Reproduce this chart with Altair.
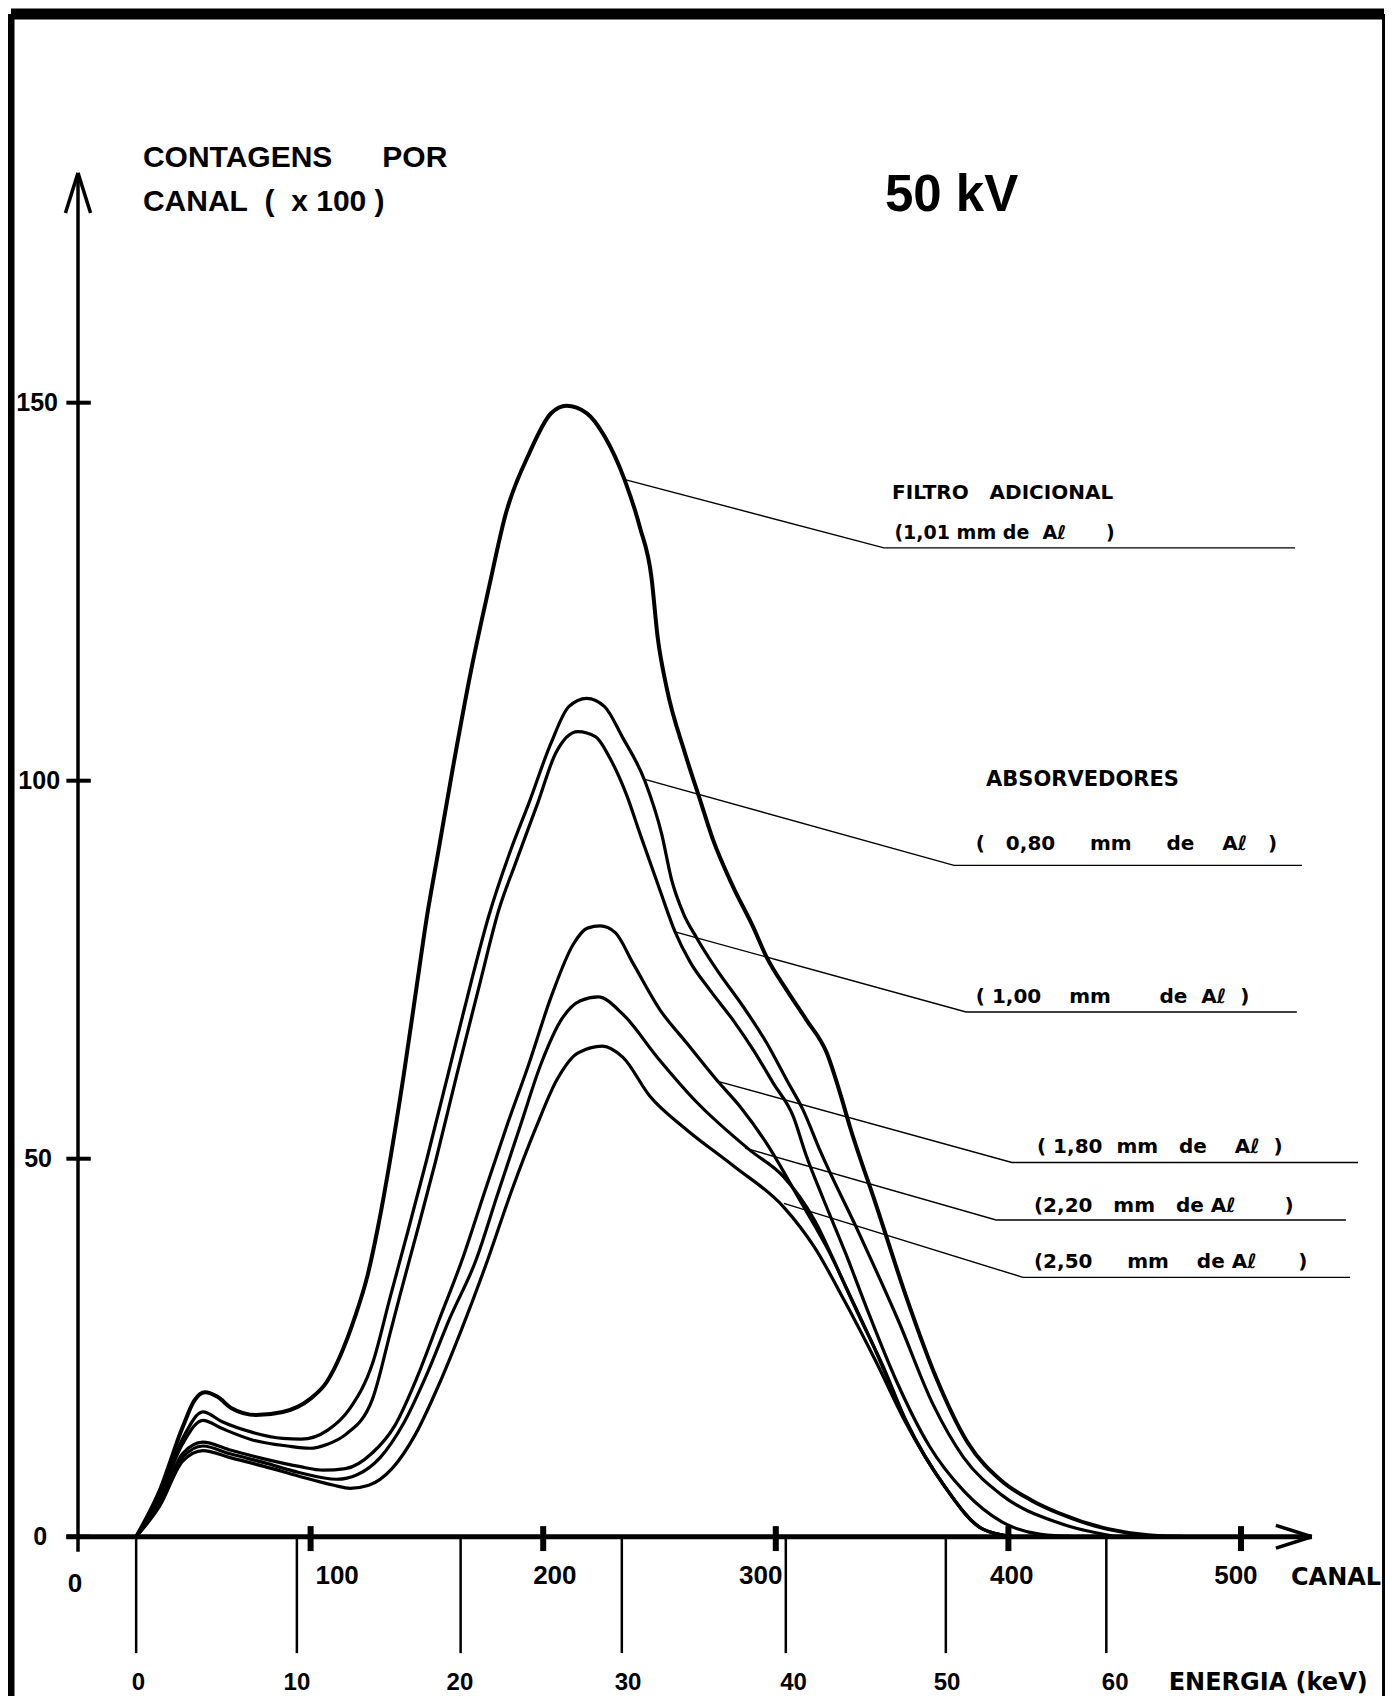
import altair as alt
import pandas as pd

# ------------------------------------------------------------------
# Spectra: channel (canal) vs counts/channel (x100)
# ------------------------------------------------------------------
canal_filtro = [25, 35, 45, 50, 54.6, 60, 66, 76.5, 88, 99.7, 107, 113, 119, 124.6, 129, 134,
                140, 145.7, 150, 155, 161, 169, 176.7, 184, 194, 203.4, 210, 218.8, 226.5, 235,
                241.6, 246.5, 249.2, 253, 261, 267.5, 273, 281.6, 290.2, 296, 304.7, 313.3,
                321.9, 327.6, 331.9, 343, 356, 369, 382.4, 397, 410, 421.8, 443, 460, 475]
cont_filtro = [0, 6, 14.5, 18, 19.1, 18.5, 17, 16.1, 16.5, 18.2, 20.5, 24.1, 29, 34.7, 41, 49.5,
               61, 73, 82, 90.8, 101.4, 114.6, 125.6, 135.4, 143.3, 148.6, 149.6, 148.6, 145.5, 139.8,
               133.5, 127, 119, 112.4, 103.6, 97.4, 92.2, 86, 80.7, 76.7, 72.3, 68.3,
               64, 58.7, 54.2, 44, 31.8, 21, 12.5, 7.4, 4.8, 3.1, 1, 0.2, 0]

canal_080 = [25, 35, 45, 53.7, 62, 75, 88, 95.9, 107.4, 117, 126.6, 134.3, 142, 149.6, 159.2,
             168.8, 176.5, 186, 193.8, 203.4, 211, 218.7, 226.4, 234, 243.8, 250.9, 255.2, 260.2,
             266, 274.6, 286, 296.1, 304.7, 311.8, 319, 336, 352.8, 367.6, 380.7, 397.2, 421.8, 446.5]
cont_080 = [0, 5.5, 13, 16.5, 15.2, 13.8, 13, 12.9, 14.1, 17, 22.9, 31.8, 40.6, 49.5, 61.3,
            73.1, 82, 90.8, 97, 105, 109.8, 110.9, 109.8, 105.8, 99.9, 93, 86.9, 82.5,
            79.2, 75, 70.1, 65.3, 60.4, 56.4, 51.1, 40, 28.5, 17.5, 10.5, 5.5, 1.8, 0]

canal_100 = [25, 35, 45, 53.7, 62, 75, 90, 99.7, 107, 115, 126.6, 134.5, 138.3, 146, 153.6, 163,
             172.7, 181, 188, 197.6, 205.3, 214.9, 222.6, 228.3, 236, 241.6, 250.2, 256.7, 263.2,
             271.7, 281.7, 290.3, 298.9, 307.5, 313, 320, 330, 340, 352, 366, 381, 397, 414, 428]
cont_100 = [0, 5.2, 12.3, 15.4, 14.3, 12.8, 12, 11.7, 12.2, 13.5, 18.2, 27.3, 31.8, 40.6, 49.5, 61.3,
            73.1, 83, 89, 97, 103.6, 106.5, 105.8, 103.2, 98, 93, 85.5, 80, 76,
            72.3, 68.3, 64.4, 60, 55.6, 50.5, 45, 37.5, 29.5, 20.5, 12, 6, 2, 0.3, 0]

canal_180 = [25, 35, 45, 53.7, 65, 80, 95, 105.5, 115, 126.6, 136.2, 145.8, 155.4, 165, 174.6,
             184.2, 193.8, 203.4, 213, 219, 224.5, 231, 238.7, 250.2, 261.7, 274.6, 284.6, 296.1,
             310, 323.1, 336.3, 346.2, 356, 372.5, 389, 402]
cont_180 = [0, 4.5, 11, 12.5, 11.5, 10.3, 9.3, 8.8, 9.0, 11.1, 14.7, 21.1, 28.8, 36.5, 45.4,
            54.2, 62.5, 71.4, 78.4, 80.5, 80.8, 79.9, 75.8, 69.7, 65.3, 60.4, 56.9, 52,
            44.7, 37.6, 28.9, 22.5, 15.3, 6.7, 1, 0]

canal_220 = [25, 35, 45, 53.7, 65, 80, 95, 111.3, 120, 130, 140, 150, 160, 171, 180.5, 190, 199,
             208, 216, 223.6, 234.3, 249.1, 265.6, 288.6, 303.4, 316.6, 329.7, 342.9, 356, 372.5,
             389, 402]
cont_220 = [0, 4.3, 10.5, 12.0, 11, 9.8, 8.5, 7.6, 8.2, 10.5, 15, 21.5, 29, 36.5, 45.4, 54.2, 62.5,
            68.5, 70.9, 71.4, 69.1, 63.4, 57.6, 51.2, 47.6, 41.9, 33.3, 24.6, 15.3, 6.7,
            1, 0]

canal_250 = [25, 35, 45, 53.7, 65, 80, 95, 110, 117, 125, 135, 145, 155, 165, 176, 186, 197, 206,
             215, 225.5, 234.3, 245.8, 260.6, 282, 303.4, 316.6, 329.7, 343, 356, 372.5, 389, 402]
cont_250 = [0, 4, 10, 11.4, 10.5, 9.3, 8, 6.8, 6.4, 6.8, 9, 13.5, 20, 27.5, 36.5, 45.4, 54.2, 60.5,
            64, 64.9, 63.4, 58.3, 54.1, 49, 43.6, 38.3, 31.1, 23.2, 15, 6.7, 1, 0]

series_names = ["1,01 mm (filtro)", "0,80 mm", "1,00 mm", "1,80 mm", "2,20 mm", "2,50 mm"]

# axes
y_ticks = [0, 50, 100, 150]
y_tick_labels = ["0", "50", "100", "150"]
canal_ticks = [100, 200, 300, 400, 500]
canal_tick_labels = ["0", "100", "200", "300", "400", "500"]
energy_ticks = ["0", "10", "20", "30", "40", "50", "60"]
energy_tick_canal = [25.0, 94.1, 164.5, 233.8, 304.3, 373.1, 442.1]

# texts
NB = "\u00a0"
title_lines = ["CONTAGENS" + NB * 6 + "POR",
               "CANAL" + NB * 2 + "(" + NB * 2 + "x" + NB + "100" + NB + ")"]
kv_label = "50 kV"
legend_texts = [
    "FILTRO" + NB * 3 + "ADICIONAL",
    "(1,01" + NB + "mm" + NB + "de" + NB * 2 + "Aℓ" + NB * 6 + ")",
    "ABSORVEDORES",
    "(" + NB * 3 + "0,80" + NB * 5 + "mm" + NB * 5 + "de" + NB * 4 + "Aℓ" + NB * 3 + ")",
    "(" + NB + "1,00" + NB * 4 + "mm" + NB * 7 + "de" + NB * 2 + "Aℓ" + NB * 2 + ")",
    "(" + NB + "1,80" + NB * 2 + "mm" + NB * 3 + "de" + NB * 4 + "Aℓ" + NB * 2 + ")",
    "(2,20" + NB * 3 + "mm" + NB * 3 + "de" + NB + "Aℓ" + NB * 7 + ")",
    "(2,50" + NB * 5 + "mm" + NB * 4 + "de" + NB + "Aℓ" + NB * 6 + ")",
]
axis_names = ["CANAL", "ENERGIA (keV)"]

# ------------------------------------------------------------------
# layout (data units: canal on x, counts on y)
# ------------------------------------------------------------------
X_DOM = [-30.095, 561.91]
Y_DOM = [-21.07, 202.21]
W, H = 1377, 1688

y_label_x = [-13.3, -11.2, -7.7, -8.6]
canal_label_x = [-1.3, 111.4, 205, 293.5, 401.4, 497.8]
canal_label_y = [-6.2, -5.2, -5.2, -5.2, -5.2, -5.2]
energy_label_x = [26, 94.1, 164.2, 236.5, 307.6, 373.6, 445.9]
energy_label_y = -19.3

legend_pos = [(350, 138.1), (351, 132.7), (390.4, 100.1), (386, 91.6), (386, 71.4),
              (412.3, 51.5), (411, 43.7), (411, 36.4)]
legend_sizes = [20, 19, 21, 20, 20, 20, 20, 20]

leaders = [
    [(235.6, 139.8), (346.5, 130.8), (523.2, 130.8)],
    [(243.3, 100.2), (376.6, 88.8), (526.2, 88.8)],
    [(256.7, 80.0), (381.8, 69.4), (524.0, 69.4)],
    [(274.3, 60.3), (401.5, 49.5), (550.3, 49.5)],
    [(286.8, 51.4), (394.7, 41.9), (545.1, 41.9)],
    [(303.5, 44.1), (406.3, 34.3), (546.9, 34.3)],
]

# ------------------------------------------------------------------
xs = alt.Scale(domain=X_DOM, nice=False, zero=False)
ys = alt.Scale(domain=Y_DOM, nice=False, zero=False)
X = alt.X("x:Q", scale=xs, axis=None)
Y = alt.Y("y:Q", scale=ys, axis=None)

# curves
rows = []
all_c = [canal_filtro, canal_080, canal_100, canal_180, canal_220, canal_250]
all_v = [cont_filtro, cont_080, cont_100, cont_180, cont_220, cont_250]
for k, (cc, vv) in enumerate(zip(all_c, all_v)):
    w = 4.0 if k == 0 else 3.2
    for c, v in zip(cc, vv):
        rows.append({"series": series_names[k], "x": c, "y": v, "w": w})
curve_df = pd.DataFrame(rows)
curves = alt.Chart(curve_df).mark_line(
    interpolate="monotone", color="black", strokeCap="round", strokeJoin="round"
).encode(x=X, y=Y, detail="series:N", strokeWidth=alt.StrokeWidth("w:Q", scale=None))

# leader lines
lrows = []
for i, pts in enumerate(leaders):
    for j, (c, v) in enumerate(pts):
        lrows.append({"lead": i, "i": j, "x": c, "y": v})
lead_chart = alt.Chart(pd.DataFrame(lrows)).mark_line(color="black", strokeWidth=1.4).encode(
    x=X, y=Y, detail="lead:N", order="i:O")

# rules: axes, ticks, arrows, energy lines, frame
r = []
def rule(x, y, x2, y2, w):
    r.append({"x": x, "y": y, "x2": x2, "y2": y2, "w": w})

rule(-5, 0, 530.4, 0, 5)                 # canal axis
rule(530.4, 0, 515.0, 1.5, 3.5)          # arrow
rule(530.4, 0, 515.0, -1.5, 3.5)
rule(0, -2, 0, 180.4, 3.5)               # counts axis
rule(0, 180.4, -5.4, 175.1, 3.5)         # arrow
rule(0, 180.4, 5.4, 175.1, 3.5)
for t in y_ticks:
    rule(-5, t, 5.5, t, 4)
for t in canal_ticks:
    rule(t, -1.9, t, 1.4, 6)
for c in energy_tick_canal:
    rule(c, -0.3, c, -15.4, 2.5)
# frame of the drawing
rule(-28.8, 201.4, 561.5, 201.4, 11)
rule(-28.8, 201.4, -28.8, -21.1, 7)
rule(561.5, 201.4, 561.5, -21.1, 4)
rules = alt.Chart(pd.DataFrame(r)).mark_rule(color="black", strokeCap="butt").encode(
    x=X, y=Y, x2="x2:Q", y2="y2:Q", strokeWidth=alt.StrokeWidth("w:Q", scale=None))

# texts
def text_layer(df, **kw):
    return alt.Chart(df).mark_text(color="black", **kw).encode(
        x=X, y=Y, text="t:N", size=alt.Size("fs:Q", scale=None))

title_df = pd.DataFrame({"t": title_lines, "x": [27.9, 27.9], "y": [182.4, 176.6], "fs": [30, 30]})
kv_df = pd.DataFrame({"t": [kv_label], "x": [346.9], "y": [177.3], "fs": [51]})
leg_df = pd.DataFrame({"t": legend_texts, "x": [p[0] for p in legend_pos],
                       "y": [p[1] for p in legend_pos], "fs": legend_sizes})
axn_df = pd.DataFrame({"t": axis_names, "x": [521.5, 468.9], "y": [-5.4, -19.3], "fs": [24, 24]})
ylab_df = pd.DataFrame({"t": y_tick_labels, "x": y_label_x, "y": y_ticks, "fs": [25] * 4})
clab_df = pd.DataFrame({"t": canal_tick_labels, "x": canal_label_x, "y": canal_label_y,
                        "fs": [26] * 6})
elab_df = pd.DataFrame({"t": energy_ticks, "x": energy_label_x, "y": [energy_label_y] * 7,
                        "fs": [24] * 7})

t_title = text_layer(title_df, align="left", baseline="middle", font="Liberation Sans",
                     fontWeight="bold")
t_kv = text_layer(kv_df, align="left", baseline="middle", font="Liberation Sans", fontWeight="bold")
t_leg = text_layer(leg_df, align="left", baseline="middle", font="DejaVu Sans", fontWeight="bold")
t_axn = text_layer(axn_df, align="left", baseline="middle", font="DejaVu Sans", fontWeight="bold")
t_ylab = text_layer(ylab_df, align="right", baseline="middle", font="Liberation Sans",
                    fontWeight="bold")
t_clab = text_layer(clab_df, align="center", baseline="middle", font="Liberation Sans",
                    fontWeight="bold")
t_elab = text_layer(elab_df, align="center", baseline="middle", font="Liberation Sans",
                    fontWeight="bold")

chart = alt.layer(
    rules, lead_chart, curves, t_title, t_kv, t_leg, t_axn, t_ylab, t_clab, t_elab
).properties(
    width=W, height=H, padding=0, autosize=alt.AutoSizeParams(type="none"), background="white"
).configure_view(stroke=None)

chart.save("out.html", embed_options={"renderer": "svg", "actions": False})
